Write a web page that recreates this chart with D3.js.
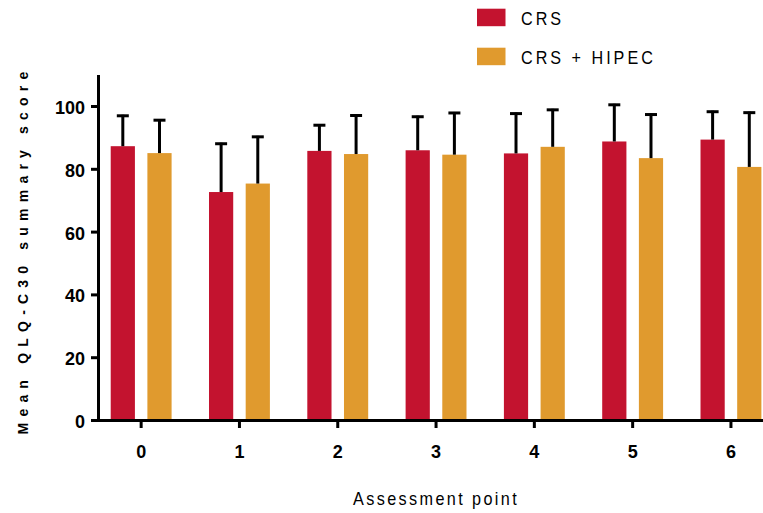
<!DOCTYPE html>
<html>
<head>
<meta charset="utf-8">
<script src="https://cdn.jsdelivr.net/npm/d3@7"></script>
<style>
  body { margin: 0; background: #fff; }
  svg { display: block; }
  .tick text { font-family: "Liberation Sans", Arial, sans-serif; font-weight: bold; }
</style>
</head>
<body>
<svg id="chart" width="763" height="513"></svg>
<script>
// Assessment points and series
const categories = ["0", "1", "2", "3", "4", "5", "6"];
const seriesNames = ["CRS", "CRS + HIPEC"];
const seriesColors = ["#C3132F", "#E09A2E"];

// Mean QLQ-C30 summary score per assessment point
const crsMean   = [87.2, 72.6, 85.7, 85.9, 84.9, 88.7, 89.3];
const hipecMean = [85.0, 75.3, 84.7, 84.5, 87.0, 83.4, 80.6];
// Standard deviation (upper error bar)
const crsSD     = [10.0, 15.7, 8.5, 11.0, 13.0, 12.0, 9.2];
const hipecSD   = [10.8, 15.2, 12.6, 13.6, 12.1, 14.2, 17.6];

const yTicks = [0, 20, 40, 60, 80, 100];

const svg = d3.select("#chart");
const narrow = 0.85; // horizontal squeeze for the condensed labels

const rows = categories.map((c, i) => ({
  cat: c,
  values: [
    { key: seriesNames[0], mean: crsMean[i], sd: crsSD[i], color: seriesColors[0] },
    { key: seriesNames[1], mean: hipecMean[i], sd: hipecSD[i], color: seriesColors[1] }
  ]
}));

const y = d3.scaleLinear().domain([0, 110]).range([420, 74.6]);
const x0 = d3.scaleBand().domain(categories).range([92, 92 + 7 * 98.3]).padding(0);
const x1 = d3.scaleBand().domain(seriesNames).range([0, x0.bandwidth()])
  .paddingInner(0.34).paddingOuter(0.51);

// Bars
const groups = svg.append("g").selectAll("g").data(rows).join("g")
  .attr("transform", d => `translate(${x0(d.cat)},0)`);

groups.selectAll("rect").data(d => d.values).join("rect")
  .attr("x", d => x1(d.key))
  .attr("y", d => y(d.mean))
  .attr("width", x1.bandwidth())
  .attr("height", d => y(0) - y(d.mean))
  .attr("fill", d => d.color);

// Upper error bars with caps
const eb = groups.selectAll("g.err").data(d => d.values).join("g").attr("class", "err");
eb.append("line")
  .attr("x1", d => x1(d.key) + x1.bandwidth() / 2)
  .attr("x2", d => x1(d.key) + x1.bandwidth() / 2)
  .attr("y1", d => y(d.mean))
  .attr("y2", d => y(d.mean + d.sd))
  .attr("stroke", "#000").attr("stroke-width", 3);
eb.append("line")
  .attr("x1", d => x1(d.key) + x1.bandwidth() / 2 - 6)
  .attr("x2", d => x1(d.key) + x1.bandwidth() / 2 + 6)
  .attr("y1", d => y(d.mean + d.sd) + 1)
  .attr("y2", d => y(d.mean + d.sd) + 1)
  .attr("stroke", "#000").attr("stroke-width", 3);

// Y axis
const yAxis = svg.append("g").attr("transform", "translate(98,0)")
  .call(d3.axisLeft(y).tickValues(yTicks).tickSize(7).tickSizeOuter(0).tickPadding(6));
yAxis.select(".domain").attr("stroke-width", 3);
yAxis.selectAll(".tick line").attr("stroke-width", 3);
yAxis.selectAll(".tick text").attr("font-size", 18).attr("fill", "#000").attr("dy", "0.42em");

// X axis
const xAxis = svg.append("g").attr("transform", "translate(0,420)")
  .call(d3.axisBottom(x0).tickSize(8).tickSizeOuter(0).tickPadding(17));
xAxis.select(".domain").attr("stroke-width", 3);
xAxis.selectAll(".tick line").attr("stroke-width", 3);
xAxis.selectAll(".tick text").attr("font-size", 18).attr("fill", "#000");

// Axis titles
svg.append("text")
  .attr("transform", "translate(28,250) rotate(-90)")
  .attr("text-anchor", "middle")
  .attr("font-family", "Liberation Sans, Arial, sans-serif")
  .attr("font-weight", "bold")
  .attr("font-size", 14)
  .attr("letter-spacing", 6.2)
  .text("Mean QLQ-C30 summary score");

svg.append("text")
  .attr("transform", `translate(353,505) scale(0.9,1)`)
  .attr("font-family", "Liberation Sans, Arial, sans-serif")
  .attr("font-size", 18)
  .attr("letter-spacing", 2.4 / 0.9)
  .text("Assessment point");

// Legend
const legend = svg.append("g").selectAll("g").data(seriesNames).join("g")
  .attr("transform", (d, i) => `translate(477,${8.7 + i * 39})`);
legend.append("rect").attr("width", 28.5).attr("height", 17.5)
  .attr("fill", (d, i) => seriesColors[i]);
legend.append("text")
  .attr("transform", `translate(44,16) scale(${narrow},1)`)
  .attr("font-family", "Liberation Sans, Arial, sans-serif")
  .attr("font-size", 19)
  .attr("letter-spacing", 3.0 / narrow)
  .text(d => d);
</script>
</body>
</html>
